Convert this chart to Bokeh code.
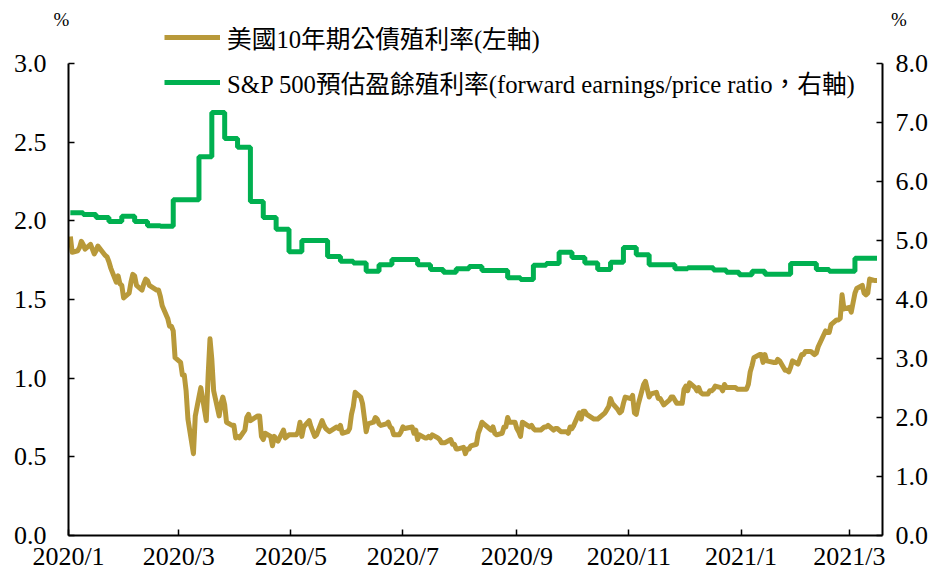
import pandas as pd
from bokeh.plotting import figure
from bokeh.models import (Range1d, LinearAxis, FixedTicker, CustomJSTickFormatter,
                          NumeralTickFormatter, Legend, LegendItem, Title)
from bokeh.embed import file_html
from bokeh.resources import INLINE

# ---------------- data ----------------
# US 10-year Treasury yield (left axis), (day, value) per month
ust_2020_01 = [(2,1.90),(3,1.80),(6,1.81),(7,1.83),(8,1.87),(9,1.85),(10,1.82),(13,1.85),(14,1.82),(15,1.79),(16,1.81),(17,1.84),(21,1.78),(22,1.77),(23,1.74),(24,1.70),(27,1.61),(28,1.65),(29,1.60),(30,1.59),(31,1.51)]
ust_2020_02 = [(3,1.54),(4,1.61),(5,1.66),(6,1.65),(7,1.59),(10,1.56),(11,1.60),(12,1.63),(13,1.62),(14,1.59),(18,1.56),(19,1.56),(20,1.52),(21,1.46),(24,1.38),(25,1.33),(26,1.33),(27,1.30),(28,1.13)]
ust_2020_03 = [(2,1.10),(3,1.02),(4,1.02),(5,0.92),(6,0.74),(9,0.52),(10,0.76),(11,0.82),(12,0.88),(13,0.94),(16,0.73),(17,1.02),(18,1.25),(19,1.12),(20,0.92),(23,0.76),(24,0.84),(25,0.88),(26,0.83),(27,0.72),(30,0.70),(31,0.70)]
ust_2020_04 = [(1,0.62),(2,0.63),(3,0.62),(6,0.67),(7,0.75),(8,0.77),(9,0.73),(13,0.76),(14,0.76),(15,0.63),(16,0.61),(17,0.65),(20,0.63),(21,0.57),(22,0.63),(23,0.61),(24,0.60),(27,0.67),(28,0.62),(29,0.63),(30,0.64)]
ust_2020_05 = [(1,0.64),(4,0.64),(5,0.66),(6,0.72),(7,0.63),(8,0.69),(11,0.73),(12,0.69),(13,0.66),(14,0.63),(15,0.64),(18,0.73),(19,0.70),(20,0.68),(21,0.67),(22,0.66),(26,0.69),(27,0.68),(28,0.70),(29,0.65)]
ust_2020_06 = [(1,0.66),(2,0.68),(3,0.77),(4,0.82),(5,0.91),(8,0.88),(9,0.84),(10,0.75),(11,0.66),(12,0.71),(15,0.72),(16,0.75),(17,0.74),(18,0.71),(19,0.70),(22,0.71),(23,0.72),(24,0.69),(25,0.68),(26,0.64),(29,0.64),(30,0.66)]
ust_2020_07 = [(1,0.69),(2,0.68),(6,0.69),(7,0.65),(8,0.67),(9,0.61),(10,0.64),(13,0.62),(14,0.62),(15,0.63),(16,0.62),(17,0.64),(20,0.62),(21,0.61),(22,0.59),(23,0.59),(24,0.59),(27,0.61),(28,0.58),(29,0.58),(30,0.55),(31,0.55)]
ust_2020_08 = [(3,0.56),(4,0.52),(5,0.55),(6,0.55),(7,0.57),(10,0.58),(11,0.65),(12,0.68),(13,0.72),(14,0.71),(17,0.68),(18,0.67),(19,0.69),(20,0.65),(21,0.64),(24,0.65),(25,0.69),(26,0.69),(27,0.75),(28,0.72),(31,0.72)]
ust_2020_09 = [(1,0.68),(2,0.66),(3,0.63),(4,0.72),(8,0.69),(9,0.70),(10,0.68),(11,0.67),(14,0.67),(15,0.68),(16,0.69),(17,0.69),(18,0.70),(21,0.67),(22,0.68),(23,0.68),(24,0.67),(25,0.66),(28,0.66),(29,0.65),(30,0.69)]
ust_2020_10 = [(1,0.68),(2,0.70),(5,0.78),(6,0.74),(7,0.79),(8,0.79),(9,0.77),(13,0.74),(14,0.74),(15,0.74),(16,0.75),(19,0.78),(20,0.80),(21,0.82),(22,0.87),(23,0.84),(26,0.80),(27,0.78),(28,0.79),(29,0.84),(30,0.88)]
ust_2020_11 = [(2,0.87),(3,0.89),(4,0.78),(5,0.77),(6,0.83),(9,0.96),(10,0.98),(12,0.88),(13,0.90),(16,0.91),(17,0.87),(18,0.87),(19,0.85),(20,0.83),(23,0.86),(24,0.88),(25,0.88),(27,0.84),(30,0.84)]
ust_2020_12 = [(1,0.93),(2,0.95),(3,0.92),(4,0.97),(7,0.94),(8,0.92),(9,0.94),(10,0.91),(11,0.90),(14,0.90),(15,0.92),(16,0.92),(17,0.93),(18,0.95),(21,0.94),(22,0.92),(23,0.96),(24,0.94),(28,0.94),(29,0.94),(30,0.93),(31,0.93)]
ust_2021_01 = [(4,0.93),(5,0.96),(6,1.04),(7,1.08),(8,1.13),(11,1.15),(12,1.15),(13,1.10),(14,1.15),(15,1.11),(19,1.10),(20,1.10),(21,1.12),(22,1.11),(25,1.05),(26,1.05),(27,1.04),(28,1.07),(29,1.11)]
ust_2021_02 = [(1,1.09),(2,1.12),(3,1.15),(4,1.15),(5,1.17),(8,1.17),(9,1.16),(10,1.15),(11,1.16),(12,1.20),(16,1.30),(17,1.29),(18,1.29),(19,1.34),(22,1.37),(23,1.37),(24,1.38),(25,1.53),(26,1.44)]
ust_2021_03 = [(1,1.45),(2,1.42),(3,1.48),(4,1.54),(5,1.57),(8,1.59),(9,1.54),(10,1.53),(11,1.54),(12,1.63),(15,1.62),(16,1.62)]

ust_months = [("2020-01", ust_2020_01), ("2020-02", ust_2020_02), ("2020-03", ust_2020_03),
              ("2020-04", ust_2020_04), ("2020-05", ust_2020_05), ("2020-06", ust_2020_06),
              ("2020-07", ust_2020_07), ("2020-08", ust_2020_08), ("2020-09", ust_2020_09),
              ("2020-10", ust_2020_10), ("2020-11", ust_2020_11), ("2020-12", ust_2020_12),
              ("2021-01", ust_2021_01), ("2021-02", ust_2021_02), ("2021-03", ust_2021_03)]

# S&P 500 forward earnings yield (right axis), weekly from 2020-01-02
spx_start = "2020-01-02"
spx_vals = [5.47, 5.44, 5.39, 5.32, 5.41,
            5.32, 5.25, 5.24, 5.69,
            5.69, 6.42, 7.17, 6.73,
            6.58, 5.66, 5.39, 5.19, 4.81,
            5.00, 5.00, 4.73, 4.65,
            4.62, 4.48, 4.59, 4.68,
            4.68, 4.59, 4.51, 4.46, 4.52,
            4.56, 4.49, 4.49, 4.37,
            4.34, 4.58, 4.61, 4.80,
            4.71, 4.62, 4.51, 4.63, 4.88,
            4.76, 4.59, 4.59, 4.52,
            4.54, 4.54, 4.50, 4.46, 4.42,
            4.48, 4.43, 4.43, 4.61,
            4.61, 4.51, 4.48, 4.48,
            4.70, 4.70]
spx_end = "2021-03-16"

x_ticks = ["2020-01-01", "2020-03-01", "2020-05-01", "2020-07-01", "2020-09-01",
           "2020-11-01", "2021-01-01", "2021-03-01"]
left_ticks = [0.0, 0.5, 1.0, 1.5, 2.0, 2.5, 3.0]
right_ticks = [0.0, 1.0, 2.0, 3.0, 4.0, 5.0, 6.0, 7.0, 8.0]
left_max, right_max = 3.0, 8.0

label_ust = "美國10年期公債殖利率(左軸)"
label_spx = "S&P 500預估盈餘殖利率(forward earnings/price ratio，右軸)"
unit_text = "%"

# ---------------- build series ----------------
ust_x, ust_y = [], []
for ym, rows in ust_months:
    for d, v in rows:
        ust_x.append(pd.Timestamp(f"{ym}-{d:02d}"))
        ust_y.append(v)

spx_x = list(pd.date_range(spx_start, periods=len(spx_vals), freq="7D")) + [pd.Timestamp(spx_end)]
spx_y = spx_vals + [spx_vals[-1]]

FONT = "'Liberation Serif', 'Noto Sans CJK TC', serif"
GOLD = "#B8993A"
GREEN = "#00B050"

def ms(s):
    return pd.Timestamp(s).value // 10**6

# frame extends above the 3.0 / 8.0 tops so the legend fits inside it
AXIS_H = 472          # pixel height of the 0..3 axis
FRAME_H = 508         # frame height incl. room above for legend
ext = FRAME_H / AXIS_H

p = figure(frame_width=814, frame_height=FRAME_H, x_axis_type="datetime",
           output_backend="svg", toolbar_location=None,
           x_range=Range1d(ms("2020-01-01"), ms("2021-03-19")),
           y_range=Range1d(0, left_max * ext),
           min_border_left=68, min_border_right=50, min_border_top=27, min_border_bottom=30)
p.outline_line_color = None
p.xgrid.visible = False
p.ygrid.visible = False

# "%" unit marks above both axes, as one title line
p.title = Title(text=unit_text + "\u00a0" * 173 + unit_text, align="left", offset=-15,
                standoff=-4, text_font=FONT, text_font_size="19px",
                text_font_style="normal", text_color="black")

p.extra_y_ranges = {"right": Range1d(0, right_max * ext)}
raxis = LinearAxis(y_range_name="right")
p.add_layout(raxis, "right")

r1 = p.line(ust_x, ust_y, line_color=GOLD, line_width=5, line_join="round")
r2 = p.step(spx_x, spx_y, mode="after", line_color=GREEN, line_width=5,
            y_range_name="right")

xaxis = p.xaxis[0]
laxis = p.yaxis[0]
xaxis.ticker = FixedTicker(ticks=[ms(t) for t in x_ticks])
xaxis.formatter = CustomJSTickFormatter(code="""
const d = new Date(tick);
return d.getUTCFullYear() + "/" + (d.getUTCMonth() + 1);
""")
laxis.ticker = FixedTicker(ticks=left_ticks)
laxis.formatter = NumeralTickFormatter(format="0.0")
laxis.bounds = (0, left_max)
raxis.ticker = FixedTicker(ticks=right_ticks)
raxis.formatter = NumeralTickFormatter(format="0.0")
raxis.bounds = (0, right_max)

for ax in (xaxis, laxis, raxis):
    ax.axis_line_color = "black"
    ax.axis_line_width = 2
    ax.major_tick_line_color = "black"
    ax.major_tick_line_width = 1.5
    ax.major_tick_in = 6
    ax.major_tick_out = 0
    ax.minor_tick_line_color = None
    ax.major_label_text_font = FONT
    ax.major_label_text_font_size = "26px"
    ax.major_label_text_color = "black"
xaxis.major_label_standoff = 6
laxis.major_label_standoff = 22
raxis.major_label_standoff = 13

legend = Legend(items=[LegendItem(label=label_ust, renderers=[r1]),
                       LegendItem(label=label_spx, renderers=[r2])],
                location=(96, 435), orientation="vertical",
                glyph_width=56, glyph_height=28, label_height=28, spacing=9,
                padding=0, margin=0, label_standoff=7,
                background_fill_alpha=0, border_line_color=None,
                label_text_font=FONT, label_text_font_size="24.7px",
                label_text_color="black")
p.add_layout(legend)

open("out.html", "w").write(file_html(p, INLINE))
